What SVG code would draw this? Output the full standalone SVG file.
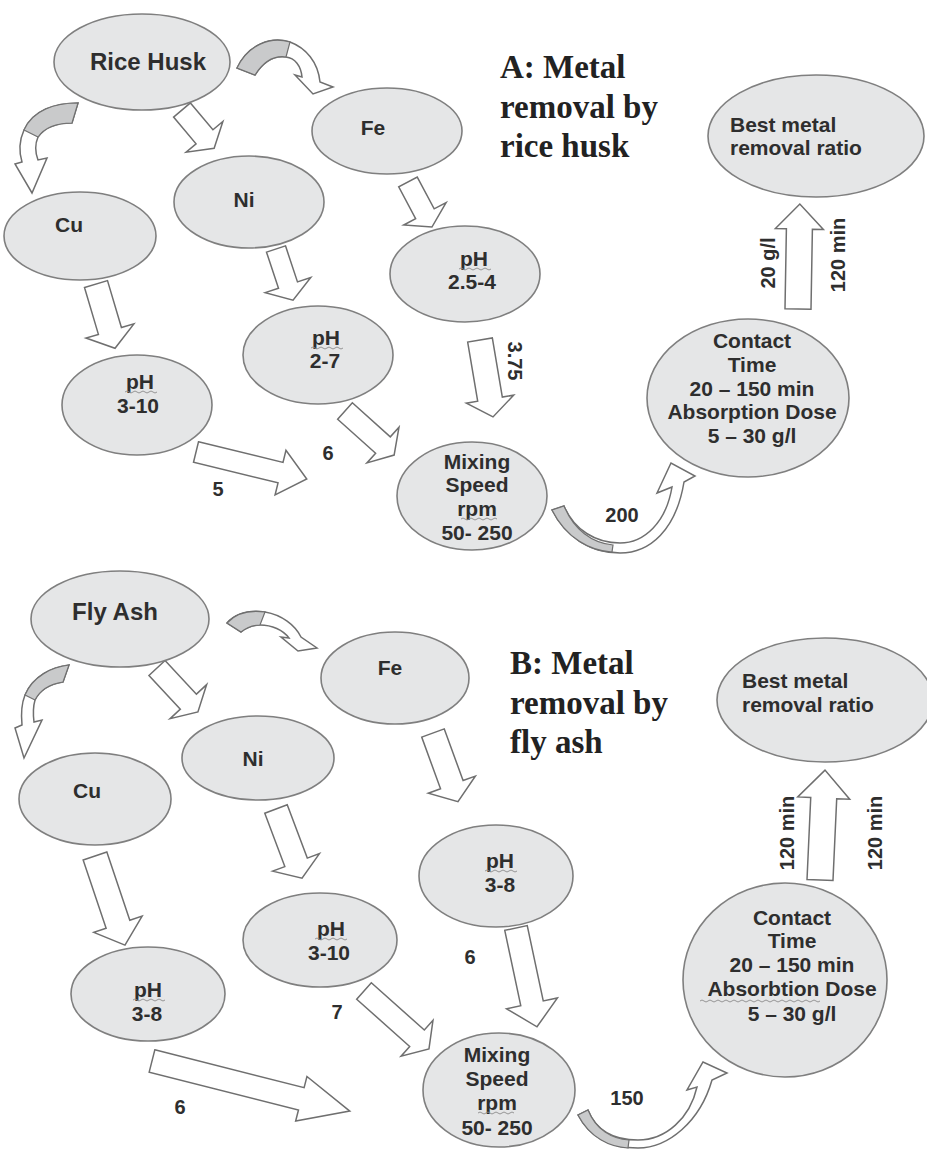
<svg xmlns="http://www.w3.org/2000/svg" width="927" height="1149" viewBox="0 0 927 1149">
<style>
.node ellipse{fill:#e5e6e7;stroke:#7f7f7f;stroke-width:1.6}
.lbl{font-family:"Liberation Sans",Arial,sans-serif;font-weight:bold;fill:#2e2e2e;text-anchor:middle}
.big{font-size:24px}
.mid{font-size:21px}
.start{text-anchor:start}
.title{font-family:"Liberation Serif","Times New Roman",serif;font-weight:bold;font-size:33px;fill:#222}
.arr{fill:#fff;stroke:#6f6f6f;stroke-width:1.5;stroke-linejoin:miter}
.back{fill:#c9cacb;stroke:#6f6f6f;stroke-width:1.2}
.elbl{font-family:"Liberation Sans",Arial,sans-serif;font-weight:bold;font-size:20px;fill:#2e2e2e;text-anchor:middle}
.sq{fill:none;stroke:#8c8c8c;stroke-width:0.9}
</style>
<rect width="927" height="1149" fill="#fff"/>

<!-- Panel A titles -->
<g id="titleA">
<text class="title" x="500" y="78">A: Metal</text>
<text class="title" x="500" y="118">removal by</text>
<text class="title" x="500" y="157">rice husk</text>
</g>
<g id="titleB">
<text class="title" x="510" y="674">B: Metal</text>
<text class="title" x="510" y="714">removal by</text>
<text class="title" x="510" y="753">fly ash</text>
</g>

<!-- Connectors -->
<g id="connectors">
<!-- Panel A curved -->
<path class="arr" d="M237,68 C248,45 270,36 290,42 C306,48 318,62 320,82 L333,87 L313,94 L295,75 L302,77 C301,66 295,58 286,57 C272,55 262,64 255,75 Z"/>
<path class="back" d="M237,68 C248,45 270,36 290,42 L286,57 C272,55 262,64 255,75 Z"/>
<path class="arr" d="M78,103 C55,103 33,110 24,130 C19,141 19,152 22,162 L15,164 L32,193 L47,158 L38,160 C35,152 35,144 38,137 C45,127 58,123 72,123 Z"/>
<path class="back" d="M78,103 C55,103 33,110 24,130 L38,137 C45,127 58,123 72,123 Z"/>
<path class="arr" d="M552,510 C566,538 592,553 620,553 C650,553 676,530 684,482 L695,476 L671,463 L657,493 L672,487 C666,523 644,543 620,543 C596,543 574,530 564,506 Z"/>
<path class="back" d="M552,510 C566,538 590,551 612,552 L613,545 C592,543 574,530 564,506 Z"/>
<!-- Panel A straight -->
<polygon class="arr" transform="translate(182,110) rotate(50)" points="0,-11 35,-11 35,-24 50,0 35,24 35,11 0,11"/>
<polygon class="arr" transform="translate(408,182) rotate(62)" points="0,-10.5 36,-10.5 36,-24 51,0 36,24 36,10.5 0,10.5"/>
<polygon class="arr" transform="translate(276,249) rotate(71.6)" points="0,-10 38,-10 38,-24 54,0 38,24 38,10 0,10"/>
<polygon class="arr" transform="translate(96,284) rotate(73.5)" points="0,-12 49,-12 49,-25 67,0 49,25 49,12 0,12"/>
<polygon class="arr" transform="translate(480,340) rotate(80.4)" points="0,-12.5 60,-12.5 60,-24 78,0 60,24 60,12.5 0,12.5"/>
<polygon class="arr" transform="translate(345,411) rotate(41.9)" points="0,-11 51,-11 51,-24 66,0 51,24 51,11 0,11"/>
<polygon class="arr" transform="translate(196,452) rotate(13.7)" points="0,-10.5 87,-10.5 87,-23 114,0 87,23 87,10.5 0,10.5"/>
<polygon class="arr" transform="translate(798,309) rotate(-89)" points="0,-13 80,-13 80,-24 105,0 80,24 80,13 0,13"/>
<!-- Panel A labels -->
<text class="elbl" transform="translate(515,361) rotate(90)" y="7">3.75</text>
<text class="elbl" x="328" y="460">6</text>
<text class="elbl" x="218" y="496">5</text>
<text class="elbl" x="622" y="522">200</text>
<text class="elbl" transform="translate(768,263) rotate(-90)" y="7">20 g/l</text>
<text class="elbl" transform="translate(838,255) rotate(-90)" y="7">120 min</text>

<!-- Panel B curved -->
<path class="arr" d="M227,623 C236,613 250,610 265,612 C282,615 295,625 301,637 L317,648 L298,651 L281,637 L289,638 C283,630 272,625 260,625 C252,625 246,628 241,632 Z"/>
<path class="back" d="M227,623 C236,613 250,610 265,612 L260,625 C252,625 246,628 241,632 Z"/>
<path class="arr" d="M69,665 C52,667 33,676 25,695 C21,705 21,715 22,725 L15,728 L24,758 L42,720 L34,722 C33,714 33,707 35,700 C40,690 50,684 63,682 Z"/>
<path class="back" d="M69,665 C52,667 33,676 25,695 L35,700 C40,690 50,684 63,682 Z"/>
<path class="arr" d="M578,1115 C590,1138 612,1148 638,1148 C668,1148 700,1122 712,1080 L727,1073 L703,1062 L687,1090 L697,1087 C690,1118 666,1140 638,1140 C614,1140 596,1130 588,1110 Z"/>
<path class="back" d="M578,1115 C590,1138 610,1147 628,1148 L629,1140 C612,1139 596,1130 588,1110 Z"/>
<!-- Panel B straight -->
<polygon class="arr" transform="translate(157,668) rotate(47)" points="0,-11 46,-11 46,-25 60,0 46,25 46,11 0,11"/>
<polygon class="arr" transform="translate(433,733) rotate(70)" points="0,-12 55,-12 55,-25 73,0 55,25 55,12 0,12"/>
<polygon class="arr" transform="translate(276,809) rotate(69.4)" points="0,-12 57,-12 57,-25 74,0 57,25 57,12 0,12"/>
<polygon class="arr" transform="translate(95,856) rotate(71.4)" points="0,-12.5 72,-12.5 72,-25.5 94,0 72,25.5 72,12.5 0,12.5"/>
<polygon class="arr" transform="translate(516,928) rotate(78)" points="0,-11.5 77,-11.5 77,-26 101,0 77,26 77,11.5 0,11.5"/>
<polygon class="arr" transform="translate(364,991) rotate(41.7)" points="0,-11 71,-11 71,-24 87,0 71,24 71,11 0,11"/>
<polygon class="arr" transform="translate(152,1061) rotate(14.2)" points="0,-11.5 154,-11.5 154,-23 204,0 154,23 154,11.5 0,11.5"/>
<polygon class="arr" transform="translate(820,880) rotate(-87.4)" points="0,-13 82,-13 82,-26 110,0 82,26 82,13 0,13"/>
<!-- Panel B labels -->
<text class="elbl" x="470" y="964">6</text>
<text class="elbl" x="337" y="1019">7</text>
<text class="elbl" x="180" y="1114">6</text>
<text class="elbl" x="627" y="1105">150</text>
<text class="elbl" transform="translate(787,833) rotate(-90)" y="7">120 min</text>
<text class="elbl" transform="translate(875,833) rotate(-90)" y="7">120 min</text>
</g>

<!-- Panel A nodes -->
<g id="riceHusk" class="node"><ellipse cx="142" cy="62" rx="88" ry="48"/><text class="lbl big" x="148" y="70">Rice Husk</text></g>
<g id="feA" class="node"><ellipse cx="387" cy="131" rx="75" ry="43"/><text class="lbl mid" x="373" y="135">Fe</text></g>
<g id="niA" class="node"><ellipse cx="249" cy="202" rx="75" ry="46"/><text class="lbl mid" x="244" y="207">Ni</text></g>
<g id="cuA" class="node"><ellipse cx="80" cy="236" rx="76" ry="44"/><text class="lbl mid" x="69" y="232">Cu</text></g>
<g id="phFeA" class="node"><ellipse cx="465" cy="274" rx="75" ry="48"/><text class="lbl mid" x="474" y="266">pH</text><text class="lbl mid" x="472" y="289">2.5-4</text><path class="sq" d="M459,269 q2,-2 4,0 t4,0 t4,0 t4,0 t4,0 t4,0 t4,0 t4,0"/></g>
<g id="phNiA" class="node"><ellipse cx="318" cy="355" rx="75" ry="49"/><text class="lbl mid" x="326" y="345">pH</text><text class="lbl mid" x="325" y="368">2-7</text><path class="sq" d="M311,348 q2,-2 4,0 t4,0 t4,0 t4,0 t4,0 t4,0 t4,0 t4,0"/></g>
<g id="phCuA" class="node"><ellipse cx="137" cy="405" rx="75" ry="50"/><text class="lbl mid" x="140" y="389">pH</text><text class="lbl mid" x="138" y="413">3-10</text><path class="sq" d="M125,392 q2,-2 4,0 t4,0 t4,0 t4,0 t4,0 t4,0 t4,0 t4,0"/></g>
<g id="mixA" class="node"><ellipse cx="472" cy="496" rx="75" ry="54"/><text class="lbl mid" x="477" y="469">Mixing</text><text class="lbl mid" x="477" y="492">Speed</text><text class="lbl mid" x="477" y="516">rpm</text><text class="lbl mid" x="477" y="540">50- 250</text><path class="sq" d="M461,519 q2,-2 4,0 t4,0 t4,0 t4,0 t4,0 t4,0 t4,0 t4,0 t4,0"/></g>
<g id="contactA" class="node"><ellipse cx="748" cy="398" rx="101" ry="79"/><text class="lbl mid" x="752" y="348">Contact</text><text class="lbl mid" x="752" y="372">Time</text><text class="lbl mid" x="752" y="396">20 – 150 min</text><text class="lbl mid" x="752" y="419">Absorption Dose</text><text class="lbl mid" x="752" y="443">5 – 30 g/l</text></g>
<g id="bestA" class="node"><ellipse cx="816" cy="136" rx="108" ry="61"/><text class="lbl mid start" x="730" y="132">Best metal</text><text class="lbl mid start" x="730" y="155">removal ratio</text></g>

<!-- Panel B nodes -->
<g id="flyAsh" class="node"><ellipse cx="120" cy="619" rx="89" ry="48"/><text class="lbl big" x="115" y="620">Fly Ash</text></g>
<g id="feB" class="node"><ellipse cx="395" cy="678" rx="74" ry="46"/><text class="lbl mid" x="390" y="675">Fe</text></g>
<g id="niB" class="node"><ellipse cx="258" cy="758" rx="76" ry="42"/><text class="lbl mid" x="253" y="766">Ni</text></g>
<g id="cuB" class="node"><ellipse cx="95" cy="799" rx="76" ry="46"/><text class="lbl mid" x="87" y="798">Cu</text></g>
<g id="phFeB" class="node"><ellipse cx="496" cy="876" rx="77" ry="51"/><text class="lbl mid" x="500" y="868">pH</text><text class="lbl mid" x="500" y="892">3-8</text><path class="sq" d="M485,871 q2,-2 4,0 t4,0 t4,0 t4,0 t4,0 t4,0 t4,0 t4,0"/></g>
<g id="phNiB" class="node"><ellipse cx="320" cy="940" rx="77" ry="47"/><text class="lbl mid" x="331" y="936">pH</text><text class="lbl mid" x="329" y="960">3-10</text><path class="sq" d="M315,939 q2,-2 4,0 t4,0 t4,0 t4,0 t4,0 t4,0 t4,0 t4,0"/></g>
<g id="phCuB" class="node"><ellipse cx="148" cy="994" rx="77" ry="47"/><text class="lbl mid" x="148" y="997">pH</text><text class="lbl mid" x="147" y="1021">3-8</text><path class="sq" d="M133,1000 q2,-2 4,0 t4,0 t4,0 t4,0 t4,0 t4,0 t4,0 t4,0"/></g>
<g id="mixB" class="node"><ellipse cx="499" cy="1090" rx="76" ry="57"/><text class="lbl mid" x="497" y="1062">Mixing</text><text class="lbl mid" x="497" y="1086">Speed</text><text class="lbl mid" x="497" y="1110">rpm</text><text class="lbl mid" x="497" y="1135">50- 250</text><path class="sq" d="M478,1113 q2,-2 4,0 t4,0 t4,0 t4,0 t4,0 t4,0 t4,0 t4,0 t4,0"/></g>
<g id="contactB" class="node"><ellipse cx="785" cy="980" rx="102" ry="97"/><text class="lbl mid" x="792" y="925">Contact</text><text class="lbl mid" x="792" y="948">Time</text><text class="lbl mid" x="792" y="972">20 – 150 min</text><text class="lbl mid" x="792" y="996">Absorbtion Dose</text><text class="lbl mid" x="792" y="1021">5 – 30 g/l</text><path class="sq" d="M700,1001 q2,-2 4,0 t4,0 t4,0 t4,0 t4,0 t4,0 t4,0 t4,0 t4,0 t4,0 t4,0 t4,0 t4,0 t4,0 t4,0 t4,0 t4,0 t4,0 t4,0 t4,0 t4,0 t4,0 t4,0 t4,0 t4,0 t4,0 t4,0 t4,0 t4,0 t4,0"/></g>
<g id="bestB" class="node"><ellipse cx="825" cy="700" rx="108" ry="62"/><text class="lbl mid start" x="742" y="688">Best metal</text><text class="lbl mid start" x="742" y="712">removal ratio</text></g>
</svg>
